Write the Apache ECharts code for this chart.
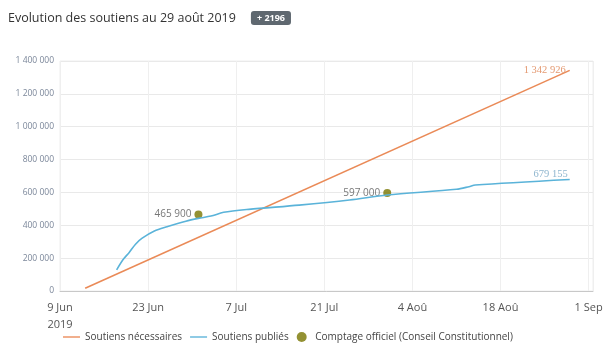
<!DOCTYPE html>
<html><head><meta charset="utf-8">
<script src="https://cdn.jsdelivr.net/npm/echarts@6/dist/echarts.min.js"></script>
<style>html,body{margin:0;padding:0;background:#fff}#c{width:609px;height:360px}</style>
</head><body><div id="c"></div>
<script>
// ---- data ----
var titleText = "Evolution des soutiens au 29 août 2019";
var badgeText = "+ 2196";
var seriesNames = ["Soutiens nécessaires", "Soutiens publiés", "Comptage officiel (Conseil Constitutionnel)"];
var neededDates = ["2019-06-13", "2019-08-29"];
var neededValues = [17217, 1342926];
var publishedDates = ["2019-06-18","2019-06-19","2019-06-20","2019-06-21","2019-06-22","2019-06-24","2019-06-26","2019-06-29","2019-07-01","2019-07-03","2019-07-05","2019-07-09","2019-07-17","2019-07-25","2019-07-31","2019-08-11","2019-08-13","2019-08-14","2019-08-29"];
var publishedValues = [128000,190000,235000,285000,320000,365000,391000,425000,442000,456000,479000,497000,523000,554000,584000,619000,635000,645000,679155];
var officialDates = ["2019-07-01", "2019-07-31"];
var officialValues = [465900, 597000];
var xStartDate = "2019-06-09";
var xTickLabels = ["9 Jun\n2019","23 Jun","7 Jul","21 Jul","4 Aoû","18 Aoû","1 Sep"];
var yTicks = [0,200000,400000,600000,800000,1000000,1200000,1400000];

var DAY = 86400000;
function ts(s){var p=s.split("-");return Date.UTC(+p[0],+p[1]-1,+p[2]);}
function dayOf(s){return (ts(s)-ts(xStartDate))/DAY;}
function fmt(v){return String(v).replace(/\B(?=(\d{3})+(?!\d))/g," ");}
function pairs(d,v){return d.map(function(x,i){return [dayOf(x),v[i]];});}

var chart = echarts.init(document.getElementById('c'), null, {renderer:'canvas'});
chart.setOption({
  animation: false,
  textStyle: {fontFamily: "Open Sans"},
  title: {
    left: 8, top: 9, padding: 0,
    text: "{t|" + titleText + "}{s|}{b|" + badgeText + "}",
    textStyle: {
      rich: {
        t: {fontSize: 12.5, fontWeight: "normal", color: "#333", fontFamily: "Open Sans"},
        s: {width: 15},
        b: {fontSize: 9, fontWeight: "bold", color: "#fff", backgroundColor: "#5f6870", borderRadius: 3, padding: [3,6,2,6], fontFamily: "Open Sans"}
      }
    }
  },
  legend: {
    left: 58, top: 327,
    itemWidth: 17, itemHeight: 10, itemGap: 8,
    textStyle: {fontSize: 10, color: "#444"},
    data: [
      {name: seriesNames[0], icon: "path://M0,5 L20,5 L20,6.6 L0,6.6 Z"},
      {name: seriesNames[1], icon: "path://M0,5 L20,5 L20,6.6 L0,6.6 Z"},
      {name: seriesNames[2], icon: "circle"}
    ]
  },
  grid: {left: 60, right: 16, top: 61, bottom: 69, show: true, borderColor: "#eeeeee", borderWidth: 1},
  xAxis: {
    type: "value", min: 0, max: 84.7, interval: 14,
    axisLine: {show: true, onZero: false, lineStyle: {color: "#c8c8c8"}},
    axisTick: {show: false},
    splitLine: {show: true, lineStyle: {color: "#efefef"}},
    axisLabel: {
      color: "#555", fontSize: 11, lineHeight: 17, margin: 8, showMaxLabel: false,
      formatter: function(v){var i=Math.round(v/14);return (Math.abs(v-i*14)<1e-6 && xTickLabels[i])?xTickLabels[i]:"";}
    }
  },
  yAxis: {
    type: "value", min: yTicks[0], max: yTicks[yTicks.length-1], interval: 200000,
    axisLine: {show: false}, axisTick: {show: false},
    splitLine: {lineStyle: {color: "#e9e9e9"}},
    axisLabel: {color: "#7b879a", fontSize: 8.5, margin: 6, formatter: function(v){return fmt(v);}}
  },
  series: [
    {
      name: seriesNames[0], type: "line", data: pairs(neededDates, neededValues),
      symbol: "none", lineStyle: {color: "#ea8a57", width: 1.6}, itemStyle: {color: "#ea8a57"},
      endLabel: {show: true, formatter: function(p){return fmt(p.value[1]);}, align: "right", verticalAlign: "middle", offset: [-12, 0], color: "#e49a72", fontSize: 10.5, fontFamily: "Liberation Serif"}
    },
    {
      name: seriesNames[1], type: "line", data: pairs(publishedDates, publishedValues),
      symbol: "none", smooth: 0.3, lineStyle: {color: "#5ab3d9", width: 1.6}, itemStyle: {color: "#5ab3d9"},
      endLabel: {show: true, formatter: function(p){return fmt(p.value[1]);}, align: "right", verticalAlign: "middle", offset: [-10, -5], color: "#8fb6cf", fontSize: 10.5, fontFamily: "Liberation Serif"}
    },
    {
      name: seriesNames[2], type: "scatter", data: pairs(officialDates, officialValues),
      symbolSize: 8, itemStyle: {color: "#787600"},
      label: {show: true, position: "left", distance: 3, color: "#555", fontSize: 10, formatter: function(p){return fmt(p.value[1]);}}
    }
  ]
});
</script></body></html>
